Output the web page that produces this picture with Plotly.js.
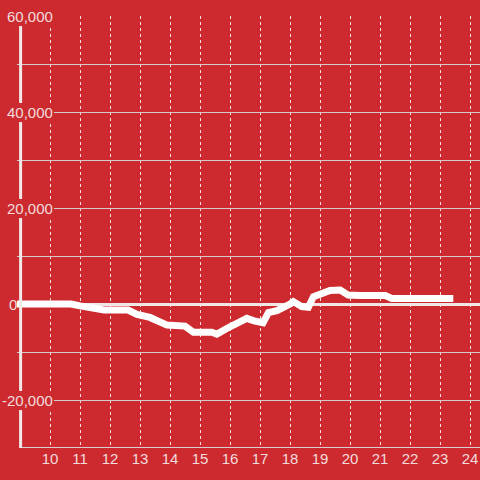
<!DOCTYPE html>
<html>
<head>
<meta charset="utf-8">
<script src="https://cdn.plot.ly/plotly-3.0.1.min.js"></script>
<style>html,body{margin:0;padding:0;background:#cc2a2f;}#chart{width:480px;height:480px;}</style>
</head>
<body>
<div id="chart"></div>
<script>
// Hours of day (x) and running values (y)
var hours  = [8.9, 10.7, 11.0, 11.45, 11.8, 12.6, 12.9, 13.33, 13.67, 13.9, 14.5, 14.78, 15.39, 15.56, 15.89, 16.33, 16.56, 16.8, 17.0, 17.1, 17.28, 17.56, 18.0, 18.11, 18.39, 18.61, 18.78, 19.06, 19.33, 19.67, 19.94, 20.33, 21.17, 21.39, 23.44];
var values = [0, 0, -400, -900, -1250, -1250, -2150, -2800, -3700, -4400, -4600, -5900, -5900, -6300, -5100, -3800, -3000, -3500, -3900, -3900, -1800, -1400, 0, 500, -550, -700, 1500, 2350, 2800, 2900, 1850, 1750, 1750, 1150, 1150];
var yTickVals = [60000, 40000, 20000, 0, -20000];
var yTickText = ["60,000", "40,000", "20,000", "0", "-20,000"];
var xTickVals = [10, 11, 12, 13, 14, 15, 16, 17, 18, 19, 20, 21, 22, 23, 24];

var BG = '#cc2a2f';
var TXT = '#f3dcdc';
var FONT = 'Liberation Sans, Arial, sans-serif';

var trace = {
  x: hours, y: values, type: 'scatter', mode: 'lines',
  line: {color: '#ffffff', width: 7, shape: 'linear'},
  hoverinfo: 'skip'
};

var annotations = yTickVals.map(function(v, i){
  var t = yTickText[i];
  var shift = t.charAt(0) === '-' ? -16 : (t === '0' ? -9 : -11);
  return {
    xref: 'paper', yref: 'y', x: 0, y: v,
    xanchor: 'left', yanchor: 'middle',
    xshift: shift,
    text: t, showarrow: false,
    font: {family: FONT, size: 15, color: TXT},
    bgcolor: t === '0' ? 'rgba(0,0,0,0)' : BG, borderpad: 1, borderwidth: 0
  };
});

var layout = {
  width: 480, height: 480,
  margin: {l: 17, r: 0, t: 16, b: 32, pad: 0},
  paper_bgcolor: BG, plot_bgcolor: BG,
  showlegend: false,
  font: {family: FONT, size: 15, color: TXT},
  xaxis: {
    range: [8.9, 24.33], tickvals: xTickVals, ticktext: xTickVals.map(String),
    showgrid: true, gridcolor: 'rgba(255,255,255,0.85)', gridwidth: 1, griddash: 'dot',
    zeroline: false, showline: false, ticks: '',
    tickfont: {family: FONT, size: 15, color: TXT}
  },
  yaxis: {
    range: [-30000, 60000], dtick: 10000, tick0: 0,
    showgrid: true, gridcolor: '#d4cccc', gridwidth: 1,
    zeroline: true, zerolinecolor: '#f1e6e6', zerolinewidth: 3,
    showticklabels: false, ticks: '', showline: false
  },
  shapes: [
    {type: 'line', xref: 'x', yref: 'y', x0: 9.02, x1: 9.02, y0: -30000, y1: 60000,
     line: {color: '#f1e8e8', width: 3}, layer: 'above'},
    {type: 'line', xref: 'x', yref: 'y', x0: 9, x1: 24.33, y0: -30000, y1: -30000,
     line: {color: '#d8d0d0', width: 2}, layer: 'below'}
  ],
  annotations: annotations
};

Plotly.newPlot('chart', [trace], layout, {displayModeBar: false, staticPlot: true});
</script>
</body>
</html>
